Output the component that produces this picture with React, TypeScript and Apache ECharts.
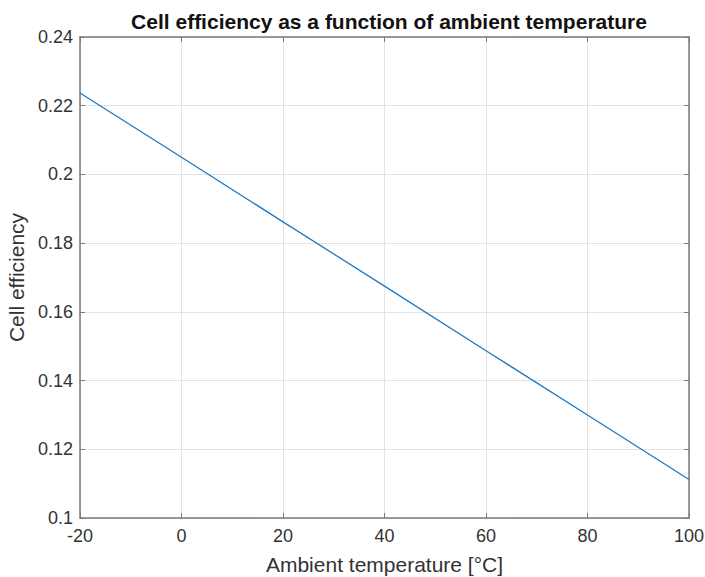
import React, { useEffect, useRef } from "react";
import * as echarts from "echarts";

const temperatures = [-20, 0, 20, 40, 60, 80, 100];
const efficiency = [0.2237, 0.205, 0.1862, 0.1675, 0.1487, 0.13, 0.1112];
const xTicks = [-20, 0, 20, 40, 60, 80, 100];
const yTicks = [0.1, 0.12, 0.14, 0.16, 0.18, 0.2, 0.22, 0.24];

const FONT = "'Liberation Sans', Arial, Helvetica, sans-serif";
const AXIS_COLOR = "#7a7a7a";

export default function App() {
  const ref = useRef<HTMLDivElement>(null);
  useEffect(() => {
    if (!ref.current) return;
    const chart = echarts.init(ref.current, null, { renderer: "svg" });
    const axisLine = { show: true, onZero: false, lineStyle: { color: AXIS_COLOR, width: 1.5 } };
    const tick = { show: true, inside: true, length: 5, lineStyle: { color: AXIS_COLOR, width: 1 } };
    chart.setOption({
      animation: false,
      backgroundColor: "#ffffff",
      title: {
        text: "Cell efficiency as a function of ambient temperature",
        left: 384,
        top: 6,
        textAlign: "center",
        textStyle: { fontFamily: FONT, fontSize: 21, fontWeight: "bold", color: "#111" },
      },
      grid: {
        left: 80,
        right: 16,
        top: 37,
        bottom: 59,
        containLabel: false,
        outerBoundsMode: "none",
      },
      xAxis: [
        {
          type: "value",
          min: -20,
          max: 100,
          interval: 20,
          name: "Ambient temperature [°C]",
          nameLocation: "middle",
          nameGap: 36,
          nameTextStyle: { fontFamily: FONT, fontSize: 21, color: "#333" },
          axisLine,
          axisTick: tick,
          axisLabel: {
            fontFamily: FONT,
            fontSize: 18,
            color: "#333",
            margin: 9,
            formatter: (v: number) => (xTicks.includes(v) ? String(v) : ""),
          },
          splitLine: { show: true, lineStyle: { color: "#e3e3e3", width: 1 } },
        },
        {
          type: "value",
          position: "top",
          min: -20,
          max: 100,
          interval: 20,
          axisLine,
          axisTick: tick,
          axisLabel: { show: false },
          splitLine: { show: false },
        },
      ],
      yAxis: [
        {
          type: "value",
          min: 0.1,
          max: 0.24,
          interval: 0.02,
          name: "Cell efficiency",
          nameLocation: "middle",
          nameGap: 53,
          nameTextStyle: { fontFamily: FONT, fontSize: 21, color: "#333" },
          axisLine,
          axisTick: tick,
          axisLabel: {
            fontFamily: FONT,
            fontSize: 18,
            color: "#333",
            margin: 7,
            formatter: (v: number) => {
              const r = Math.round(v * 100) / 100;
              return yTicks.some((t) => Math.abs(t - r) < 1e-9) ? String(r) : "";
            },
          },
          splitLine: { show: true, lineStyle: { color: "#e3e3e3", width: 1 } },
        },
        {
          type: "value",
          position: "right",
          min: 0.1,
          max: 0.24,
          interval: 0.02,
          axisLine,
          axisTick: tick,
          axisLabel: { show: false },
          splitLine: { show: false },
        },
      ],
      series: [
        {
          type: "line",
          data: temperatures.map((t, i) => [t, efficiency[i]]),
          showSymbol: false,
          symbol: "none",
          lineStyle: { color: "#1b7ac6", width: 1.3 },
        },
      ],
    });
    return () => chart.dispose();
  }, []);
  return <div ref={ref} style={{ width: 705, height: 577, position: "absolute", left: 0, top: 0 }} />;
}
